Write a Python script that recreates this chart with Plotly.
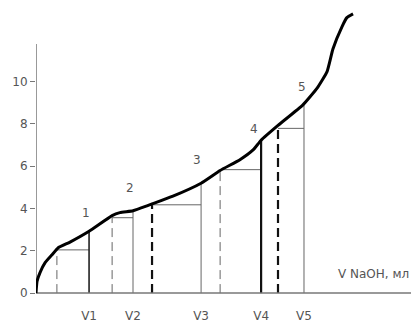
import numpy as np
import plotly.graph_objects as go

# Titration curve: pH vs added volume of NaOH
curve_v = [0.0, 0.04, 0.15, 0.34, 0.60, 0.82, 1.27, 1.98, 2.84, 3.13, 3.62, 4.14, 4.33,
           5.11, 6.16, 6.87, 7.61, 8.10, 8.40, 9.03, 9.96, 10.49, 10.86, 11.08, 11.42,
           11.60, 11.83]
curve_ph = [0.0, 0.56, 0.97, 1.44, 1.81, 2.13, 2.41, 2.92, 3.66, 3.80, 3.89, 4.12, 4.21,
            4.58, 5.19, 5.79, 6.30, 6.76, 7.22, 7.92, 8.89, 9.68, 10.46, 11.53, 12.59,
            13.01, 13.19]

# Volume steps: dashed start, solid end (V1..V5) and the pH level of each step
step_start = [0.78, 2.84, 4.33, 6.87, 9.03]
step_end = [1.98, 3.62, 6.16, 8.40, 10.00]
step_level = [2.04, 3.56, 4.17, 5.83, 7.78]
step_names = ["V1", "V2", "V3", "V4", "V5"]

# Point numbers placed along the curve
point_names = ["1", "2", "3", "4", "5"]
point_v = [1.87, 3.51, 6.00, 8.13, 9.93]
point_ph = [3.80, 4.95, 6.30, 7.73, 9.72]

y_ticks = [0, 2, 4, 6, 8, 10]
y_axis_top = 11.76

# line styles per step: (width, colour) for the dashed and the solid verticals
dash_style = [(1, "#666666"), (1, "#666666"), (2.2, "#111111"), (1, "#666666"), (2.2, "#111111")]
solid_style = [(1.6, "#222222"), (1, "#666666"), (1, "#666666"), (2.2, "#111111"), (1, "#666666")]

fig = go.Figure()

end_top = np.interp(step_end, curve_v, curve_ph)
for i in range(len(step_end)):
    dw, dc = dash_style[i]
    sw, sc = solid_style[i]
    fig.add_trace(go.Scatter(x=[step_start[i], step_start[i]], y=[0, step_level[i]],
                             mode="lines", line=dict(color=dc, width=dw, dash="9px,5px"),
                             hoverinfo="skip"))
    fig.add_trace(go.Scatter(x=[step_start[i], step_end[i]], y=[step_level[i], step_level[i]],
                             mode="lines", line=dict(color="#666666", width=1),
                             hoverinfo="skip"))
    fig.add_trace(go.Scatter(x=[step_end[i], step_end[i]], y=[0, end_top[i]],
                             mode="lines", line=dict(color=sc, width=sw),
                             hoverinfo="skip"))

# axes drawn as lines in data space
fig.add_trace(go.Scatter(x=[0, 14], y=[0, 0], mode="lines",
                         line=dict(color="#777777", width=1.5), hoverinfo="skip"))
fig.add_trace(go.Scatter(x=[0, 0], y=[0, y_axis_top], mode="lines",
                         line=dict(color="#777777", width=1.5), hoverinfo="skip"))

fig.add_trace(go.Scatter(x=curve_v, y=curve_ph, mode="lines",
                         line=dict(color="#000000", width=3, shape="spline", smoothing=0.45),
                         hoverinfo="skip"))

for name, v, ph in zip(point_names, point_v, point_ph):
    fig.add_annotation(x=v, y=ph, text=name, showarrow=False,
                       font=dict(family="DejaVu Sans", size=12, color="#555555"))

fig.add_annotation(x=13.98, y=0.88, xanchor="right", yanchor="middle",
                   text="V NaOH, мл", showarrow=False,
                   font=dict(family="DejaVu Sans", size=12, color="#555555"))

fig.update_layout(
    width=411, height=323,
    margin=dict(l=36, r=0, t=0, b=20),
    paper_bgcolor="white", plot_bgcolor="white",
    showlegend=False,
    font=dict(family="DejaVu Sans", size=12, color="#555555"),
    xaxis=dict(range=[0, 13.993], showgrid=False, zeroline=False, showline=False,
               tickvals=step_end, ticktext=step_names, ticks="outside", ticklen=8,
               tickcolor="rgba(0,0,0,0)", tickfont=dict(size=12, color="#555555")),
    yaxis=dict(range=[-0.185, 13.843], showgrid=False, zeroline=False, showline=False,
               tickvals=y_ticks, ticks="outside", ticklen=5, tickcolor="#777777",
               tickfont=dict(size=12, color="#555555")),
)

fig.write_html("out.html")
